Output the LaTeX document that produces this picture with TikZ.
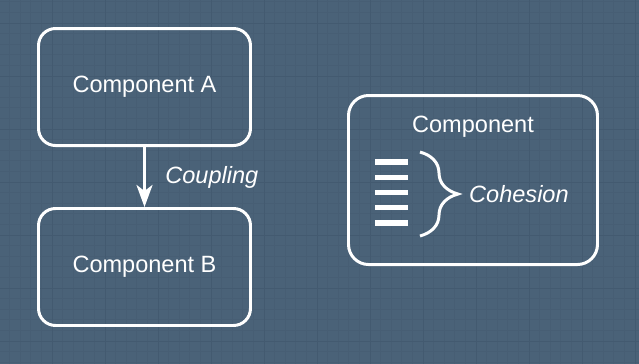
\documentclass[tikz,border=0pt]{standalone}
\usepackage{fontspec}
\setmainfont{Liberation Sans}
\usetikzlibrary{arrows.meta,calc,positioning,decorations.pathreplacing}
\definecolor{slate}{HTML}{4A6278}
\definecolor{gridminor}{HTML}{475E74}
\definecolor{gridmajor}{HTML}{435A70}
\tikzset{
  module/.style={
    draw=white,
    line width=1.7pt,
    rounded corners=9.7pt,
    minimum width=4.24cm,
    minimum height=2.34cm,
    align=center,
    text=white,
    font=\fontsize{13.4}{16}\selectfont
  },
  title/.style={
    text=white,
    font=\fontsize{13.4}{16}\selectfont
  },
  note/.style={
    text=white,
    font=\itshape\fontsize{13.4}{16}\selectfont
  },
  link/.style={
    -{Stealth[length=4.4mm,width=3.2mm,inset=1.2mm]},
    draw=white,
    line width=1.7pt
  },
  bar/.style={
    draw=white,
    line width=2.9pt
  },
  curly/.style={
    draw=white,
    line width=1.7pt,
    decorate,
    decoration={brace,amplitude=0.76cm,aspect=0.5}
  }
}

\begin{document}
\begin{tikzpicture}
  \useasboundingbox (0,0) rectangle (12.78,-7.26);
  % background with grid
  \begin{scope}
    \clip (-0.2,0.2) rectangle (13,-7.5);
    \fill[slate] (-0.2,0.2) rectangle (13,-7.5);
    \begin{scope}[shift={(-0.02,-0.46)}]
      \draw[gridminor, line width=0.4pt] (-2,-9) grid[step=0.212] (14,2);
      \draw[gridmajor, line width=0.5pt] (-2,-9) grid[step=1.06] (14,2);
    \end{scope}
  \end{scope}

  \node[module] (compA) at (2.89,-1.74) {Component A};
  \node[module, below=1.2cm of compA] (compB) {Component B};
  \draw[link] (compA) -- node[note, right=0.27cm] (coupling) {Coupling} (compB);

  \node[module, minimum width=4.98cm, minimum height=3.38cm,
    rounded corners=11.4pt] (comp) at (9.46,-3.6) {};
  \node[title, below=0.32cm of comp.north] (comptitle) {Component};

  \foreach \k in {0,...,4}
    \draw[bar] (7.5,-3.24-0.305*\k) -- ++(0.66,0);

  \coordinate (bracetop) at (8.4,-3.04);
  \coordinate (bracebot) at (8.4,-4.72);
  \coordinate (bracetip) at (9.16,-3.88);
  \draw[curly] (bracetop) -- (bracebot);
  \node[note, right=0.1cm of bracetip] (cohesion) {Cohesion};
\end{tikzpicture}
\end{document}
